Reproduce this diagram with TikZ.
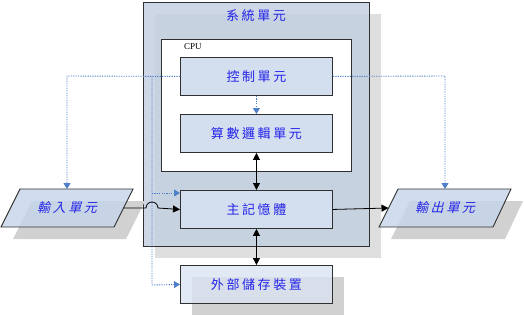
\documentclass[tikz,border=0pt]{standalone}
\usepackage{fontspec}
\setmainfont{Liberation Serif}
\newfontfamily\cjk[LetterSpace=20]{Noto Sans CJK TC}
\newfontfamily\cjkit[LetterSpace=20,FakeSlant=0.25]{Noto Sans CJK TC}
\usetikzlibrary{arrows.meta}
\definecolor{txtblue}{HTML}{2424E8}
\definecolor{sysfill}{HTML}{C4D0E2}
\definecolor{boxfill}{HTML}{D3DEEF}
\definecolor{parfill}{HTML}{C5D5EA}
\definecolor{dotblue}{HTML}{4F7FC8}
\definecolor{edge}{HTML}{303030}
\begin{document}
\begin{tikzpicture}[x=1pt,y=-1pt,
  lbl/.style={font=\cjk\fontsize{13}{13}\selectfont, text=txtblue},
  lblit/.style={font=\cjkit\fontsize{13}{13}\selectfont, text=txtblue},
  unitbox/.style={draw=edge, line width=0.9pt, fill=boxfill, minimum width=152pt, minimum height=38pt, inner sep=0pt, anchor=north west},
  ctl/.style={draw=dotblue, line width=0.9pt, dash pattern=on 1.2pt off 1.2pt, -{Triangle[width=7pt,length=6pt]}},
  data/.style={draw=black, line width=0.8pt, -{Triangle[width=7pt,length=7pt]}},
  datab/.style={draw=black, line width=0.8pt, {Triangle[width=7pt,length=7pt]}-{Triangle[width=7pt,length=7pt]}}
]
\useasboundingbox (0,0) rectangle (524,316);
% system unit
\fill[black!13] (155,14) rectangle (381,258);
\draw[edge, line width=0.9pt, fill=sysfill, fill opacity=0.85] (143,2) rectangle (369,246);
\node[lbl] (systitle) at (256,16) {系統單元};
% CPU
\draw[edge, line width=0.9pt, fill=white] (161,39) rectangle (351,171);
\node[font=\fontsize{9}{9}\selectfont, anchor=west, inner sep=0pt] (cpulbl) at (184,47) {CPU};
% units
\node[unitbox, lbl] (ctrl) at (180,57) {控制單元};
\node[unitbox, lbl] (alu) at (180,114) {算數邏輯單元};
\node[unitbox, lbl] (mem) at (180,190) {主記憶體};
\fill[black!18] (192,277) rectangle (344,315);
\node[unitbox, lbl, fill=boxfill!85!white, fill opacity=0.8, text opacity=1] (ext) at (180,265) {外部儲存裝置};
% input / output
\fill[black!18] (32,201) -- (145,201) -- (126,239) -- (13,239) -- cycle;
\draw[edge, line width=0.9pt, fill=parfill, fill opacity=0.8] (20,189) -- (133,189) -- (114,227) -- (1,227) -- cycle;
\node[lblit] (in) at (67,208) {輸入單元};
\coordinate (inE) at (123.5,208);
\coordinate (inN) at (67,189);
\fill[black!18] (410,201) -- (523,201) -- (505,239) -- (391,239) -- cycle;
\draw[edge, line width=0.9pt, fill=parfill, fill opacity=0.8] (398,189) -- (511,189) -- (493,227) -- (379,227) -- cycle;
\node[lblit] (out) at (445,208) {輸出單元};
\coordinate (outW) at (388.5,208);
\coordinate (outN) at (445,189);
% control lines
\coordinate (cl) at (67,76);
\coordinate (cr) at (445,76);
\coordinate (bt) at (152,76);
\coordinate (bm) at (152,193);
\coordinate (bb) at (152,285);
\draw[ctl] (ctrl.west) -- (cl) -- (inN);
\draw[ctl] (ctrl.east) -- (cr) -- (outN);
\draw[ctl] (ctrl.south) -- (alu.north);
\draw[ctl] (bt) -- (bb) -- (ext.west);
\draw[ctl] (bm) -- (mem.west |- bm);
% data lines
\draw[data] (inE) -- (146,208) arc[start angle=180, end angle=0, radius=6pt] -- (mem.west);
\draw[data] (mem.east) -- (outW);
\draw[datab] (alu.south) -- (mem.north);
\draw[datab] (mem.south) -- (ext.north);
\end{tikzpicture}
\end{document}
